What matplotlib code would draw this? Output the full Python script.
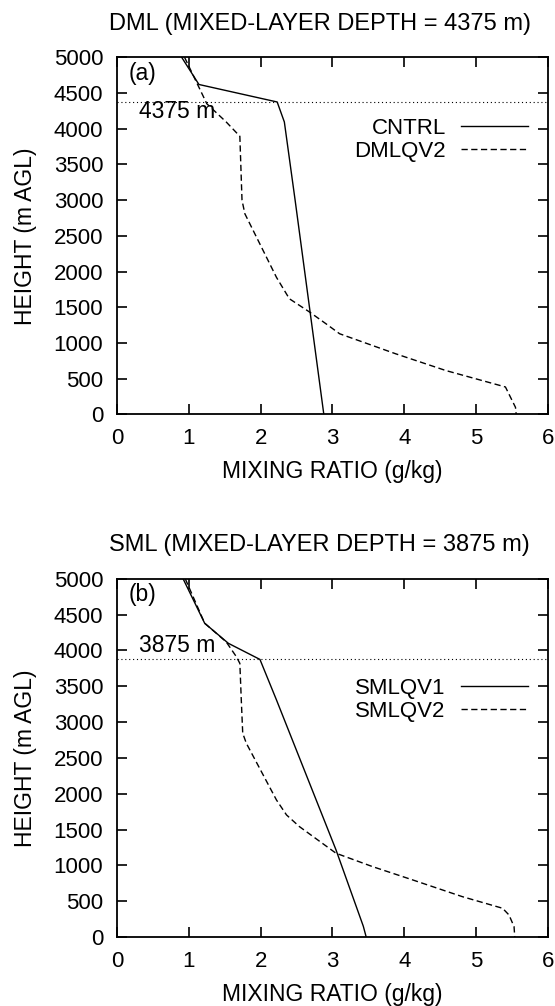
import numpy as np
import matplotlib
matplotlib.use('Agg')
import matplotlib.pyplot as plt
from matplotlib import rcParams

rcParams['font.family'] = ['Liberation Sans', 'DejaVu Sans']
rcParams['font.size'] = 16
rcParams['xtick.direction'] = 'in'
rcParams['ytick.direction'] = 'in'
rcParams['xtick.top'] = True
rcParams['ytick.right'] = True

#%% profiles (mixing ratio g/kg, height m AGL)
cntrl_q = [0.90, 1.14, 2.23, 2.33, 2.48, 2.88]
cntrl_z = [5000, 4620, 4375, 4095, 3000, 0]

dmlqv2_q = [0.94, 1.25, 1.52, 1.71, 1.74, 1.78, 2.22, 2.40, 2.68, 2.91, 3.10,
            3.88, 4.58, 5.41, 5.55, 5.56]
dmlqv2_z = [5000, 4350, 4095, 3895, 3000, 2810, 1920, 1620, 1435, 1270, 1130,
            850, 615, 385, 100, 0]

smlqv1_q = [0.92, 1.22, 1.55, 1.99, 2.22, 3.05, 3.43, 3.47]
smlqv1_z = [5000, 4380, 4100, 3875, 3310, 1215, 150, 0]

smlqv2_q = [0.95, 1.22, 1.52, 1.66, 1.71, 1.73, 1.75, 1.80, 2.22, 2.36, 2.54,
            3.05, 3.56, 4.12, 4.81, 5.37, 5.46, 5.53, 5.54]
smlqv2_z = [5000, 4380, 4120, 3915, 3820, 3310, 2845, 2705, 1913, 1704, 1541,
            1169, 982, 796, 563, 401, 307, 144, 0]

depths = [4375, 3875]
titles = ['DML (MIXED-LAYER DEPTH = 4375 m)', 'SML (MIXED-LAYER DEPTH = 3875 m)']
panel_tags = ['(a)', '(b)']
names = [['CNTRL', 'DMLQV2'], ['SMLQV1', 'SMLQV2']]
profiles = [[(cntrl_q, cntrl_z), (dmlqv2_q, dmlqv2_z)],
            [(smlqv1_q, smlqv1_z), (smlqv2_q, smlqv2_z)]]

#%%
fig = plt.figure(figsize=(5.55, 10.06), dpi=100)
boxes = [[0.211, 0.588, 0.776, 0.355], [0.211, 0.0686, 0.776, 0.356]]
leg_y = [0.769, 0.662]

for i in range(2):
    ax = fig.add_axes(boxes[i])
    (q1, z1), (q2, z2) = profiles[i]
    l1, = ax.plot(q1, z1, color='k', lw=1.0)
    l2, = ax.plot(q2, z2, color='k', lw=1.0, linestyle=(0, (4.5, 2.5)))
    ax.axhline(depths[i], color='k', lw=0.8, linestyle=(0, (1, 2.5)))
    ax.text(0.31, depths[i] + 30, '%d m' % depths[i], ha='left', va='bottom'
            if i == 1 else 'top', fontsize=16.5)
    ax.text(0.026, 0.955, panel_tags[i], transform=ax.transAxes,
            ha='left', va='center', fontsize=16.5)

    ax.legend([l1, l2], names[i], loc='center right', frameon=False,
              markerfirst=False, bbox_to_anchor=(0.954, leg_y[i]),
              borderpad=0, borderaxespad=0, handlelength=3.0,
              handletextpad=0.7, labelspacing=0.1, fontsize=16)

    ax.set_xlim(0, 6)
    ax.set_ylim(0, 5000)
    ax.set_xticks(np.arange(0, 7, 1))
    ax.set_yticks(np.arange(0, 5001, 500))
    ax.tick_params(length=7, width=1.2, pad=10, labelsize=16)
    for sp in ax.spines.values():
        sp.set_linewidth(1.3)

    ax.set_xlabel('MIXING RATIO (g/kg)', fontsize=16.5, labelpad=8)
    ax.set_ylabel('HEIGHT (m AGL)', fontsize=16.5, labelpad=12)
    ax.set_title(titles[i], fontsize=17, pad=20, x=0.47)

fig.savefig('out.png', dpi=100)
